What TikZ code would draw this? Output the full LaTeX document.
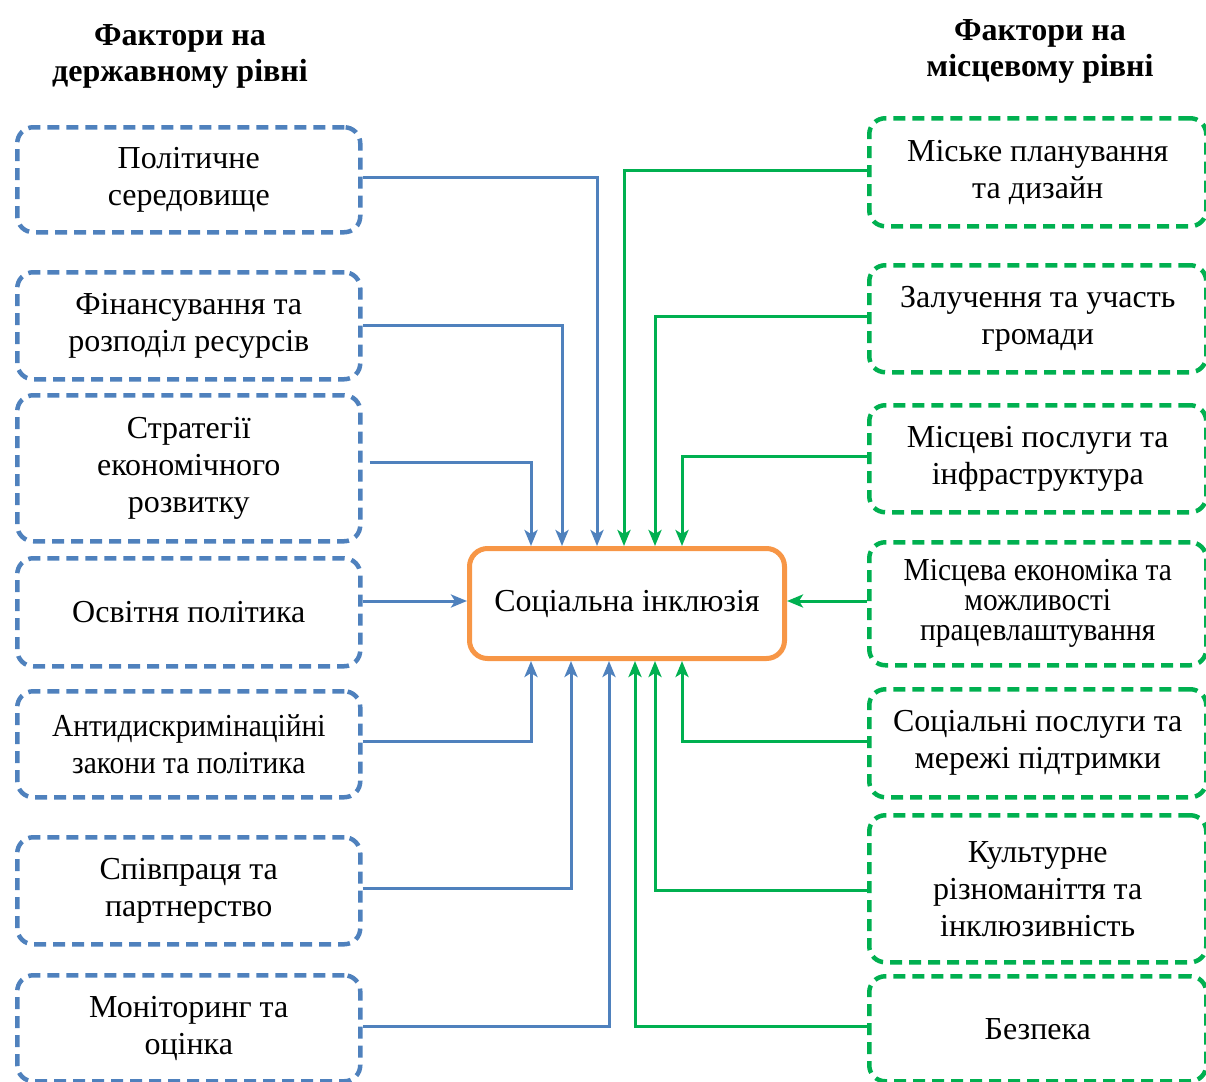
\documentclass[tikz,border=0pt]{standalone}
\usepackage{fontspec}
\setmainfont{Liberation Serif}
\usetikzlibrary{arrows.meta}
\definecolor{bl}{HTML}{4F81BD}
\definecolor{gr}{HTML}{00B050}
\definecolor{orc}{HTML}{F79646}
\begin{document}
\begin{tikzpicture}[x=1pt,y=-1pt,
  fbox/.style={draw, line width=4.5pt, dash pattern=on 12pt off 7pt, rounded corners=16pt,
    inner sep=0pt, align=center, font=\fontsize{32}{37}\selectfont, anchor=north west},
  lbox/.style={fbox, draw=bl},
  rbox/.style={fbox, draw=gr},
  lcon/.style={draw=bl, line width=3pt, -{Stealth[length=16pt,width=13pt,inset=4pt]}},
  rcon/.style={draw=gr, line width=3pt, -{Stealth[length=16pt,width=13pt,inset=4pt]}},
  ttl/.style={font=\fontsize{32}{36}\selectfont\bfseries, align=center}]
\useasboundingbox (0,0) rectangle (1206,1081);
% titles
\node[ttl] (tl) at (180,56) {Фактори на\\державному рівні};
\node[ttl] (tr) at (1040,51) {Фактори на\\місцевому рівні};
% center
\node[draw=orc, line width=5pt, rounded corners=18pt, minimum width=315pt, minimum height=110pt,
  anchor=north west, font=\fontsize{32}{37}\selectfont] (c) at (467,546) {Соціальна інклюзія};
% left boxes
\node[lbox, minimum width=343pt, minimum height=105pt] (l1) at (15,125) {Політичне\\середовище};
\node[lbox, minimum width=343pt, minimum height=107pt] (l2) at (15,270) {Фінансування та\\розподіл ресурсів};
\node[lbox, minimum width=343pt, minimum height=146pt] (l3) at (15,393) {Стратегії\\економічного\\розвитку};
\node[lbox, minimum width=343pt, minimum height=108pt] (l4) at (15,556) {Освітня політика};
\node[lbox, minimum width=343pt, minimum height=106pt, font=\fontsize{32}{37}\selectfont\addfontfeature{FakeStretch=0.92}] (l5) at (15,689) {Антидискримінаційні\\закони та політика};
\node[lbox, minimum width=343pt, minimum height=107pt] (l6) at (15,835) {Співпраця та\\партнерство};
\node[lbox, minimum width=343pt, minimum height=106pt] (l7) at (15,973) {Моніторинг та\\оцінка};
% right boxes
\node[rbox, minimum width=337pt, minimum height=108pt] (r1) at (867,116) {Міське планування\\та дизайн};
\node[rbox, minimum width=337pt, minimum height=107pt] (r2) at (867,263) {Залучення та участь\\громади};
\node[rbox, minimum width=337pt, minimum height=107pt] (r3) at (867,403) {Місцеві послуги та\\інфраструктура};
\node[rbox, minimum width=337pt, minimum height=123pt, font=\fontsize{32}{30}\selectfont\addfontfeature{FakeStretch=0.92}] (r4) at (867,540) {Місцева економіка та\\можливості\\працевлаштування};
\node[rbox, minimum width=337pt, minimum height=108pt] (r5) at (867,687) {Соціальні послуги та\\мережі підтримки};
\node[rbox, minimum width=337pt, minimum height=147pt] (r6) at (867,813) {Культурне\\різноманіття та\\інклюзивність};
\node[rbox, minimum width=337pt, minimum height=105pt] (r7) at (867,974) {Безпека};
% x positions of connector verticals
\coordinate (x1) at (597,0);
\coordinate (x2) at (562,0);
\coordinate (x3) at (531,0);
\coordinate (x5) at (531,0);
\coordinate (x6) at (571,0);
\coordinate (x7) at (609,0);
\coordinate (y1) at (624,0);
\coordinate (y2) at (655,0);
\coordinate (y3) at (682,0);
\coordinate (y5) at (682,0);
\coordinate (y6) at (655,0);
\coordinate (y7) at (635,0);
% left connectors
\draw[lcon] (l1.east |- 0,177) -| (x1 |- c.north);
\draw[lcon] (l2.east |- 0,325) -| (x2 |- c.north);
\draw[lcon] ([xshift=7pt]l3.east |- 0,462) -| (x3 |- c.north);
\draw[lcon] (l4.east |- 0,601) -- (c.west |- 0,601);
\draw[lcon] (l5.east |- 0,741) -| (x5 |- c.south);
\draw[lcon] (l6.east |- 0,888) -| (x6 |- c.south);
\draw[lcon] (l7.east |- 0,1026) -| (x7 |- c.south);
% right connectors
\draw[rcon] (r1.west |- 0,170) -| (y1 |- c.north);
\draw[rcon] (r2.west |- 0,316) -| (y2 |- c.north);
\draw[rcon] (r3.west |- 0,456) -| (y3 |- c.north);
\draw[rcon] (r4.west |- 0,601) -- (c.east |- 0,601);
\draw[rcon] (r5.west |- 0,741) -| (y5 |- c.south);
\draw[rcon] (r6.west |- 0,890) -| (y6 |- c.south);
\draw[rcon] (r7.west |- 0,1026) -| (y7 |- c.south);
\end{tikzpicture}
\end{document}
